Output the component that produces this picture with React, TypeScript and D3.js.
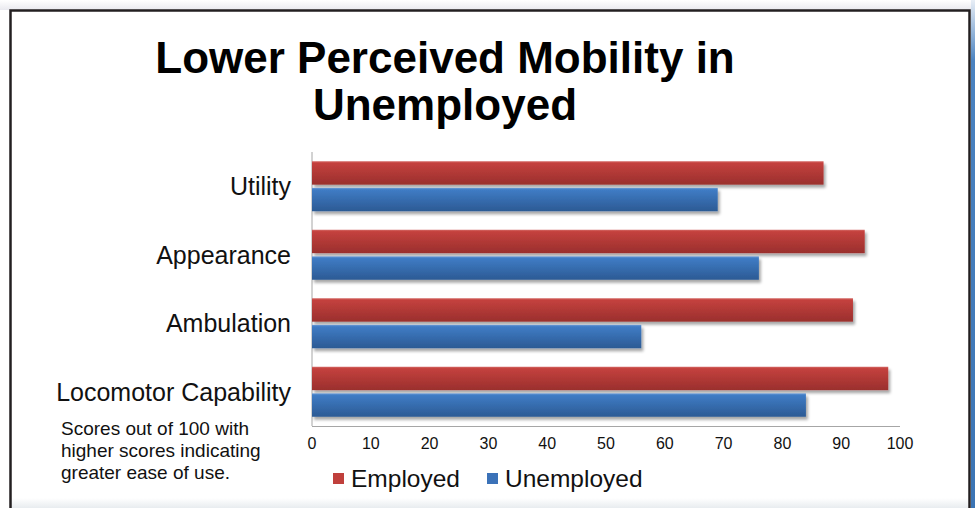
import React from "react";
import * as d3 from "d3";

const categories = ["Utility", "Appearance", "Ambulation", "Locomotor Capability"];
const seriesNames = ["Employed", "Unemployed"];
const employed = [87, 94, 92, 98];
const unemployed = [69, 76, 56, 84];
const xTicks = [0, 10, 20, 30, 40, 50, 60, 70, 80, 90, 100];
const titleLines = ["Lower Perceived Mobility in", "Unemployed"];
const noteLines = ["Scores out of 100 with", "higher scores indicating", "greater ease of use."];

const W = 975;
const H = 508;
const FONT = "'Liberation Sans', Arial, Helvetica, sans-serif";

export default function App() {
  const x = d3.scaleLinear().domain([0, 100]).range([312, 900]);
  const y = d3.scaleBand<string>().domain(categories).range([152, 426]).paddingInner(0.27).paddingOuter(0.135);
  const inner = d3.scaleBand<string>().domain(seriesNames).range([0, y.bandwidth()]).paddingInner(0.12);
  const values = [employed, unemployed];
  const fills = ["url(#gradRed)", "url(#gradBlue)"];
  const legendColors = ["#c0403c", "#3b72b8"];

  return (
    <svg width={W} height={H} style={{ position: "absolute", left: 0, top: 0, background: "#fff" }} fontFamily={FONT}>
      <defs>
        <linearGradient id="gradRed" x1="0" y1="0" x2="0" y2="1">
          <stop offset="0" stopColor="#d46a66" />
          <stop offset="0.08" stopColor="#c4413e" />
          <stop offset="1" stopColor="#9a2f2d" />
        </linearGradient>
        <linearGradient id="gradBlue" x1="0" y1="0" x2="0" y2="1">
          <stop offset="0" stopColor="#6c9bd6" />
          <stop offset="0.08" stopColor="#3f7cc5" />
          <stop offset="1" stopColor="#2c5a94" />
        </linearGradient>
        <linearGradient id="topFade" x1="0" y1="0" x2="0" y2="1">
          <stop offset="0" stopColor="#ffffff" />
          <stop offset="1" stopColor="#e9e9ef" />
        </linearGradient>
        <linearGradient id="bottomFade" x1="0" y1="0" x2="0" y2="1">
          <stop offset="0" stopColor="#ffffff" />
          <stop offset="1" stopColor="#e8ecef" />
        </linearGradient>
        <linearGradient id="sideBlue" x1="0" y1="0" x2="0" y2="1">
          <stop offset="0" stopColor="#e8eef6" />
          <stop offset="0.12" stopColor="#4a82c0" />
          <stop offset="1" stopColor="#3b74b4" />
        </linearGradient>
        <filter id="shadow" x="-5%" y="-30%" width="110%" height="180%">
          <feGaussianBlur in="SourceAlpha" stdDeviation="1.5" />
          <feOffset dx="1.5" dy="2.5" result="b" />
          <feComponentTransfer>
            <feFuncA type="linear" slope="0.35" />
          </feComponentTransfer>
          <feMerge>
            <feMergeNode />
            <feMergeNode in="SourceGraphic" />
          </feMerge>
        </filter>
      </defs>

      {/* slide background & frame */}
      <rect x={0} y={0} width={W} height={10} fill="url(#topFade)" />
      <rect x={10} y={498} width={958} height={10} fill="url(#bottomFade)" />
      <rect x={971} y={0} width={4} height={H} fill="url(#sideBlue)" />
      <path d={`M10.5,${H} V10.5 H969.5 V${H}`} fill="none" stroke="#231f20" strokeWidth={2.5} />

      {/* title */}
      {titleLines.map((t, i) => (
        <text key={t} x={445} y={73 + i * 47} textAnchor="middle" fontSize={44} fontWeight="bold" fill="#000">
          {t}
        </text>
      ))}

      {/* axes */}
      <line x1={312} x2={312} y1={152} y2={426} stroke="#a6a6a6" strokeWidth={1} />
      <line x1={312} x2={900} y1={426.5} y2={426.5} stroke="#a6a6a6" strokeWidth={1} />

      {/* bars */}
      {categories.map((c, ci) => (
        <g key={c}>
          {seriesNames.map((s, si) => (
            <rect
              key={s}
              x={x(0)}
              y={(y(c) as number) + (inner(s) as number)}
              width={x(values[si][ci]) - x(0)}
              height={inner.bandwidth()}
              fill={fills[si]}
              filter="url(#shadow)"
            />
          ))}
        </g>
      ))}

      {/* category labels */}
      {categories.map((c) => (
        <text
          key={c}
          x={291}
          y={(y(c) as number) + y.bandwidth() / 2}
          dy="0.35em"
          textAnchor="end"
          fontSize={25}
          fill="#111"
        >
          {c}
        </text>
      ))}

      {/* x tick labels */}
      {xTicks.map((t) => (
        <text key={t} x={x(t)} y={449} textAnchor="middle" fontSize={16} fill="#111">
          {t}
        </text>
      ))}

      {/* note */}
      {noteLines.map((l, i) => (
        <text key={l} x={61} y={435 + i * 22} fontSize={19} fill="#111">
          {l}
        </text>
      ))}

      {/* legend */}
      {seriesNames.map((s, i) => {
        const lx = [333, 487][i];
        return (
          <g key={s}>
            <rect x={lx} y={473} width={11} height={11} fill={legendColors[i]} />
            <text x={lx + 18} y={487} fontSize={24.5} fill="#111">
              {s}
            </text>
          </g>
        );
      })}
    </svg>
  );
}
